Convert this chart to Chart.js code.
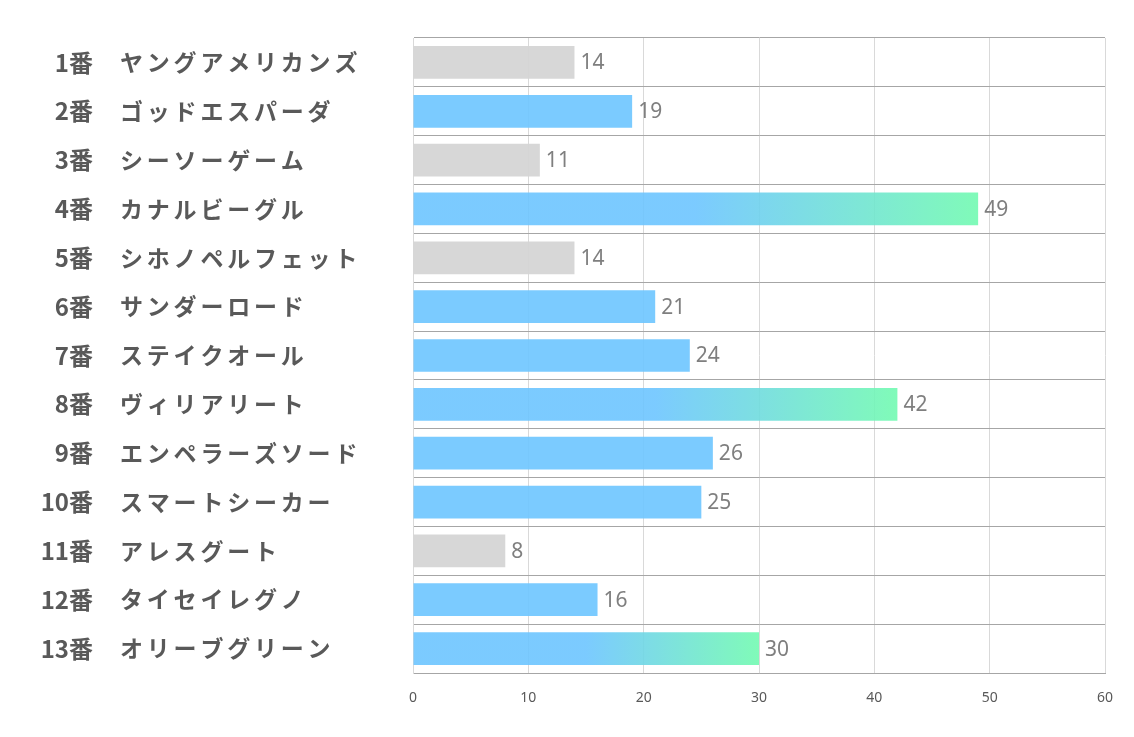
<!doctype html>
<html lang="ja">
<head>
    <meta charset="utf-8">
    <title>horse chart</title>
    <script src="https://cdn.jsdelivr.net/npm/chart.js"></script>
    <style>
        html, body { margin: 0; padding: 0; background: #fff; }
        #wrap { width: 1134px; height: 737px; }
    </style>
</head>
<body>
    <div id="wrap"><canvas id="myChart" width="1134" height="737"></canvas></div>
    <script>
        // data
        const numbers = ['1番', '2番', '3番', '4番', '5番', '6番', '7番', '8番', '9番', '10番', '11番', '12番', '13番'];
        const names = ['ヤングアメリカンズ', 'ゴッドエスパーダ', 'シーソーゲーム', 'カナルビーグル', 'シホノペルフェット',
            'サンダーロード', 'ステイクオール', 'ヴィリアリート', 'エンペラーズソード', 'スマートシーカー',
            'アレスグート', 'タイセイレグノ', 'オリーブグリーン'];
        const scores = [14, 19, 11, 49, 14, 21, 24, 42, 26, 25, 8, 16, 30];
        // 0 = gray, 1 = blue, 2 = blue with green fade
        const rank = [0, 1, 0, 2, 0, 1, 1, 2, 1, 1, 0, 1, 2];
        const xTicks = [0, 10, 20, 30, 40, 50, 60];

        const BLUE = 'rgba(109, 197, 255, 0.9)';
        const GRAY = 'rgba(213, 213, 213, 0.95)';
        const GREEN = 'rgba(114, 250, 177, 0.9)';

        function barColor(ctx) {
            const i = ctx.dataIndex;
            if (rank[i] === 0) return GRAY;
            if (rank[i] === 1) return BLUE;
            const chart = ctx.chart;
            const xs = chart.scales.x;
            if (!xs || !chart.chartArea) return BLUE;
            const x0 = xs.getPixelForValue(scores[i] * 0.5);
            const x1 = xs.getPixelForValue(scores[i]);
            const g = chart.ctx.createLinearGradient(x0, 0, x1, 0);
            g.addColorStop(0, BLUE);
            g.addColorStop(1, GREEN);
            return g;
        }

        // left labels: number right aligned, name left aligned
        const rowLabels = {
            id: 'rowLabels',
            afterDraw(chart) {
                const c = chart.ctx;
                const ys = chart.scales.y;
                c.save();
                c.fillStyle = '#595959';
                c.textBaseline = 'middle';
                numbers.forEach((n, i) => {
                    const y = ys.getPixelForValue(i);
                    c.font = 'bold 24px "Noto Sans CJK JP"';
                    c.textAlign = 'right';
                    c.letterSpacing = '0px';
                    c.fillText(n, 93, y);
                    c.font = 'bold 23px "Noto Sans CJK JP"';
                    c.textAlign = 'left';
                    c.letterSpacing = '3.8px';
                    c.fillText(names[i], 120, y);
                });
                c.restore();
            }
        };

        // value labels at the bar ends
        const valueLabels = {
            id: 'valueLabels',
            afterDatasetsDraw(chart) {
                const c = chart.ctx;
                const meta = chart.getDatasetMeta(0);
                c.save();
                c.fillStyle = '#7f7f7f';
                c.font = '21px "Noto Sans"';
                c.textAlign = 'left';
                c.textBaseline = 'middle';
                meta.data.forEach((bar, i) => {
                    c.fillText(String(scores[i]), bar.x + 6, bar.y + 1);
                });
                c.restore();
            }
        };

        const config = {
            type: 'bar',
            data: {
                labels: numbers.map((n, i) => n + ' ' + names[i]),
                datasets: [{
                    data: scores,
                    backgroundColor: barColor,
                    borderWidth: 0,
                    barPercentage: 0.67,
                    categoryPercentage: 1
                }]
            },
            options: {
                indexAxis: 'y',
                responsive: false,
                animation: false,
                layout: { padding: { left: 413, right: 29, top: 38, bottom: 0 } },
                plugins: { legend: { display: false }, tooltip: { enabled: false } },
                scales: {
                    x: {
                        min: 0, max: 60,
                        afterBuildTicks(scale) { scale.ticks = xTicks.map(v => ({ value: v })); },
                        afterFit(scale) { scale.height = 64; },
                        grid: { color: '#d9d9d9', drawTicks: false },
                        border: { display: true, color: '#a6a6a6' },
                        ticks: { color: '#595959', padding: 17, font: { family: 'Noto Sans', size: 14 } }
                    },
                    y: {
                        grid: { color: '#a6a6a6', offset: true, drawTicks: false },
                        border: { display: true, color: '#d9d9d9' },
                        ticks: { display: false },
                        afterFit(scale) { scale.width = 0; }
                    }
                }
            },
            plugins: [rowLabels, valueLabels]
        };

        new Chart(document.getElementById('myChart'), config);
    </script>
</body>
</html>
